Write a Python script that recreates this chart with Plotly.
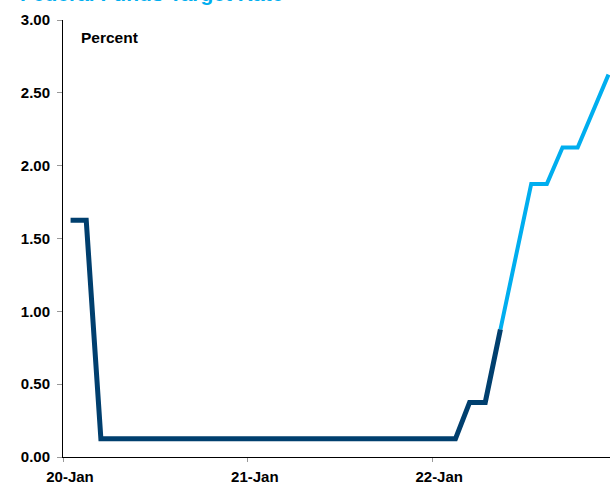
import pandas as pd
import plotly.graph_objects as go

# Monthly observations, Jan 2020 - Dec 2022 (plotted mid-month)
months = pd.date_range("2020-01-01", periods=36, freq="MS")

# Fed funds target (midpoint), actual: Jan 2020 - May 2022
actual_rate = [1.625, 1.625,
               0.125, 0.125, 0.125, 0.125, 0.125, 0.125, 0.125, 0.125, 0.125, 0.125,
               0.125, 0.125, 0.125, 0.125, 0.125, 0.125, 0.125, 0.125, 0.125, 0.125, 0.125, 0.125,
               0.125, 0.125,
               0.375, 0.375, 0.875]
# Market-implied path: May 2022 - Dec 2022
implied_rate = [0.875, 1.375, 1.875, 1.875, 2.125, 2.125, 2.375, 2.625]

tick_dates = ["2020-01-01", "2021-01-01", "2022-01-01"]
tick_labels = ["20-Jan", "21-Jan", "22-Jan"]
y_ticks = [0, 0.5, 1.0, 1.5, 2.0, 2.5, 3.0]

title_text = "Federal Funds Target Rate"
unit_text = "Percent"

x_all = months + pd.Timedelta(days=15)
x_actual = x_all[:len(actual_rate)]
x_implied = x_all[len(actual_rate) - 1:len(actual_rate) - 1 + len(implied_rate)]

FONT = "Arial, Liberation Sans, sans-serif"
DARK = "#003F6E"
LIGHT = "#00AEEF"

fig = go.Figure()
fig.add_trace(go.Scatter(x=x_implied, y=implied_rate, mode="lines",
                         line=dict(color=LIGHT, width=4), showlegend=False))
fig.add_trace(go.Scatter(x=x_actual, y=actual_rate, mode="lines",
                         line=dict(color=DARK, width=5), showlegend=False))

fig.update_layout(
    width=610, height=485,
    margin=dict(l=63, r=0, t=20, b=26),
    paper_bgcolor="white", plot_bgcolor="white",
    font=dict(family=FONT, size=15, color="black"),
    showlegend=False,
)
fig.update_xaxes(
    range=["2020-01-01", "2022-12-19"],
    tickvals=tick_dates, ticktext=tick_labels,
    showgrid=False, zeroline=False,
    showline=True, linecolor="black", linewidth=1,
    ticks="outside", ticklen=4, tickcolor="#999999", tickwidth=1,
    tickfont=dict(family=FONT, size=15, color="black", weight="bold"),
    ticklabelshift=7,
    ticklabelstandoff=2,
)
fig.update_yaxes(
    range=[0, 3], tickvals=y_ticks, tickformat=".2f",
    showgrid=False, zeroline=False,
    showline=True, linecolor="black", linewidth=1,
    ticks="outside", ticklen=5, tickcolor="#999999", tickwidth=1,
    tickfont=dict(family=FONT, size=15, color="black", weight="bold"),
    ticklabelstandoff=4,
)
fig.add_annotation(
    text=unit_text, xref="paper", yref="paper",
    x=(79 - 63) / 547, y=1 - (38 - 20) / 439,
    xanchor="left", yanchor="middle", showarrow=False,
    font=dict(family=FONT, size=15.5, color="black", weight="bold"),
)
# Chart title, mostly cropped off the top edge as in the source image
fig.add_annotation(
    text=title_text, xref="paper", yref="paper",
    x=(18 - 63) / 547, y=1 + (20 - 6.5) / 439,
    xanchor="left", yanchor="bottom", showarrow=False,
    font=dict(family=FONT, size=21, color=LIGHT, weight="bold"),
)

fig.write_html("out.html")
